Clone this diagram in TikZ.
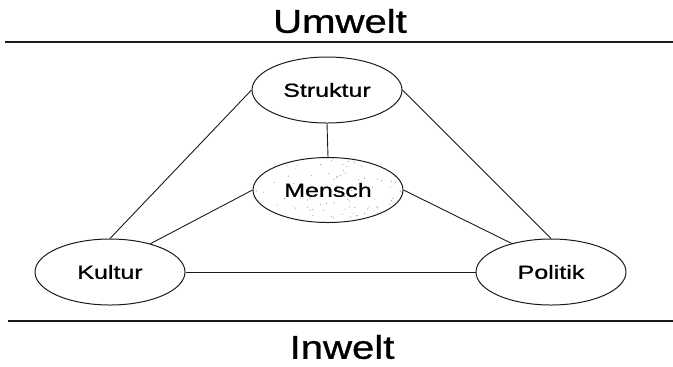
\documentclass[tikz,border=0pt]{standalone}
\usepackage{fontspec}
\setmainfont{Liberation Sans}[RawFeature={embolden=0.9}]
\usetikzlibrary{positioning, shapes.geometric, backgrounds}
\definecolor{inkLine}{HTML}{1A1A1A}
\definecolor{speckle}{HTML}{A0A0A0}
\newcommand{\wide}[2]{\scalebox{#1}[1]{#2}}

\begin{document}
\begin{tikzpicture}[x=0.5bp, y=-0.5bp,
    bubble/.style={draw=inkLine, ellipse, line width=0.5pt, inner sep=0pt,
      minimum width=75bp, minimum height=33bp,
      font=\fontsize{9.5}{11}\selectfont},
    link/.style={draw=inkLine, line width=0.45pt},
    rule/.style={draw=inkLine, line width=0.8pt},
    heading/.style={font=\fontsize{16.5}{19}\selectfont, inner sep=0pt}]
        \useasboundingbox (0,0) rectangle (673,366);

        % Headings and dividing rules
        \node[heading] (umwelt) at (340,21) {\wide{1.22}{Umwelt}};
        \node[heading] (inwelt) at (342,347) {\wide{1.22}{Inwelt}};
        \coordinate (topL) at (5,42);
        \coordinate (topR) at (673,42);
        \coordinate (botL) at (8,321);
        \coordinate (botR) at (673,321);
        \draw[rule] (topL) -- (topR);
        \draw[rule] (botL) -- (botR);

        % The four ellipses
        \node[bubble] (struktur) at (327,90) {\wide{1.32}{Struktur}};
        \node[bubble, minimum height=32.5bp] (mensch) at (328,190) {\wide{1.32}{Mensch}};
        \node[bubble] (kultur) at (110,272) {\wide{1.32}{Kultur}};
        \node[bubble] (politik) at (551,272) {\wide{1.32}{Politik}};

        % Stippled fill behind Mensch
        \begin{scope}[on background layer, shift={(mensch.center)}]
          \pgfmathsetseed{11}
          \clip (0,0) ellipse [x radius=37bp, y radius=16bp];
          \foreach \k in {1,...,100}
            \fill[speckle] (rand*75, rand*33) circle (0.3bp);
        \end{scope}

        % Connectors
        \draw[link] (struktur.west) -- (kultur.north);
        \draw[link] (struktur.east) -- (politik.north);
        \draw[link] (struktur.south) -- (mensch.north);
        \draw[link] (mensch.west) -- (kultur.35);
        \draw[link] (mensch.east) -- (politik.144);
        \draw[link] (kultur.east) -- (politik.west);
      \end{tikzpicture}
\end{document}
